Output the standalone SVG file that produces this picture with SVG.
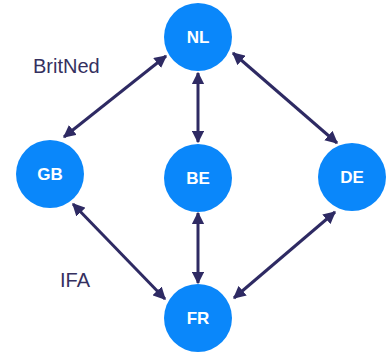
<svg xmlns="http://www.w3.org/2000/svg" width="386" height="354" viewBox="0 0 386 354">
<style>
.n{fill:#0a87fa}
.t{fill:#fff;font-family:"Liberation Sans",Arial,sans-serif;font-weight:bold;font-size:17px;text-anchor:middle}
.l{fill:#35305f;font-family:"Liberation Sans",Arial,sans-serif;font-size:20px}
.c line{stroke:#2e2a63;stroke-width:3;marker-start:url(#a);marker-end:url(#a)}
</style>
<defs>
<marker id="a" viewBox="0 0 10 10" refX="9" refY="5" markerWidth="4.2" markerHeight="4.2" orient="auto-start-reverse" markerUnits="strokeWidth">
<path d="M0,0 L10,5 L0,10 z" fill="#2e2a63"/>
</marker>
</defs>
<rect width="386" height="354" fill="#fff"/>
<g class="c" id="connectors">
<line x1="166" y1="56" x2="64" y2="137"/>
<line x1="233" y1="53" x2="337" y2="143"/>
<line x1="198" y1="73" x2="198" y2="142"/>
<line x1="198" y1="213" x2="198" y2="283"/>
<line x1="73" y1="204" x2="165" y2="299"/>
<line x1="335" y1="212" x2="234" y2="298"/>
</g>
<g id="NL"><circle class="n" cx="198" cy="37" r="34"/><text class="t" x="198" y="43">NL</text></g>
<g id="GB"><circle class="n" cx="50" cy="174" r="34"/><text class="t" x="50" y="180">GB</text></g>
<g id="BE"><circle class="n" cx="198" cy="178" r="34"/><text class="t" x="198" y="184">BE</text></g>
<g id="DE"><circle class="n" cx="352" cy="177" r="34"/><text class="t" x="352" y="183">DE</text></g>
<g id="FR"><circle class="n" cx="198" cy="318" r="34"/><text class="t" x="198" y="324">FR</text></g>
<text class="l" x="33" y="73">BritNed</text>
<text class="l" x="60" y="287">IFA</text>
</svg>
